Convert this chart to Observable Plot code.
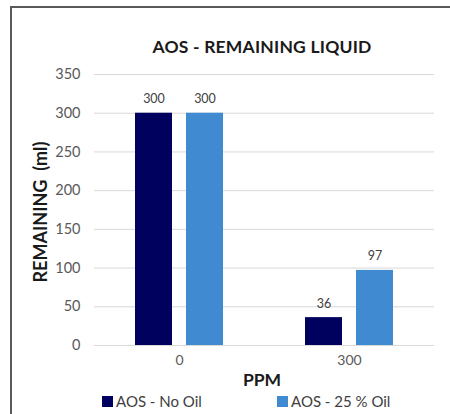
<!DOCTYPE html>
<html>
<head>
<meta charset="utf-8">
<script src="https://cdn.jsdelivr.net/npm/d3@7"></script>
<script src="https://cdn.jsdelivr.net/npm/@observablehq/plot@0.6"></script>
<style>
  html, body { margin: 0; padding: 0; background: #fff; }
  #wrap { position: relative; width: 450px; height: 414px; overflow: hidden; font-family: Lato, "Open Sans", sans-serif; background: #fff; }
  #bt { position: absolute; left: 10px; top: 6px; width: 440px; height: 2px; background: #5a5a5a; }
  #bl { position: absolute; left: 10px; top: 6px; width: 2px; height: 408px; background: #5a5a5a; }
  #title { position: absolute; left: 0; width: 524px; top: 36px; text-align: center; font-weight: bold; font-size: 17.5px; letter-spacing: 0.2px; color: #1a1a1a; line-height: 22px; }
  #chart { position: absolute; left: 0; top: 60px; }
  #ylab { position: absolute; left: 40px; top: 212px; transform: translate(-50%, -50%) rotate(-90deg); white-space: pre; font-weight: bold; font-size: 18px; color: #1a1a1a; }
  #xlab { position: absolute; left: 0; width: 524px; top: 369px; text-align: center; font-weight: bold; font-size: 17.5px; color: #1a1a1a; line-height: 22px; }
  .leg { position: absolute; top: 392px; display: flex; align-items: center; font-size: 15px; color: #404040; line-height: 18px; }
  .sw { width: 11px; height: 11px; margin-right: 3px; }
</style>
</head>
<body>
<div id="wrap">
  <div id="bt"></div>
  <div id="bl"></div>
  <div id="title"></div>
  <div id="chart"></div>
  <div id="ylab"></div>
  <div id="xlab"></div>
  <div id="leg0" class="leg" style="left:102px"></div>
  <div id="leg1" class="leg" style="left:277px"></div>
</div>
<script>
const titleText = "AOS - REMAINING LIQUID";
const yLabel = "REMAINING  (ml)";
const xLabel = "PPM";
const ppm = ["0", "300"];
const series = ["AOS - No Oil", "AOS - 25 % Oil"];
const noOil = [300, 36];
const oil25 = [300, 97];
const yTicks = [0, 50, 100, 150, 200, 250, 300, 350];
const colors = ["#00005f", "#3f8ad0"];

const data = [];
ppm.forEach((p, i) => {
  data.push({ppm: p, series: series[0], value: noOil[i]});
  data.push({ppm: p, series: series[1], value: oil25[i]});
});

document.getElementById("title").textContent = titleText;
document.getElementById("ylab").textContent = yLabel;
document.getElementById("xlab").textContent = xLabel;
series.forEach((s, i) => {
  const el = document.getElementById("leg" + i);
  const sw = document.createElement("div");
  sw.className = "sw";
  sw.style.background = colors[i];
  el.appendChild(sw);
  const t = document.createElement("span");
  t.textContent = s;
  el.appendChild(t);
});

const chart = Plot.plot({
  width: 450,
  height: 328,
  marginLeft: 93,
  marginRight: 16,
  marginTop: 14,
  marginBottom: 43,
  style: {fontFamily: "Lato, sans-serif", fontSize: "14px", color: "#595959", background: "transparent"},
  fx: {domain: ppm, padding: 0, label: null, tickSize: 0, tickPadding: 10},
  x: {domain: series, paddingInner: 0.27, paddingOuter: 0.78, axis: null},
  y: {domain: [0, 350], axis: null},
  color: {domain: series, range: colors},
  marks: [
    Plot.gridY(yTicks, {stroke: "#d9d9d9", strokeOpacity: 1}),
    Plot.axisY(yTicks, {tickSize: 0, tickPadding: 14, label: null, fill: "#595959", fontSize: 14.5}),
    Plot.barY(data, {fx: "ppm", x: "series", y: "value", fill: "series"}),
    Plot.text(data, {fx: "ppm", x: "series", y: "value", text: d => String(d.value), dy: -14, fill: "#404040", fontSize: 12.5})
  ]
});
document.getElementById("chart").appendChild(chart);
</script>
</body>
</html>
